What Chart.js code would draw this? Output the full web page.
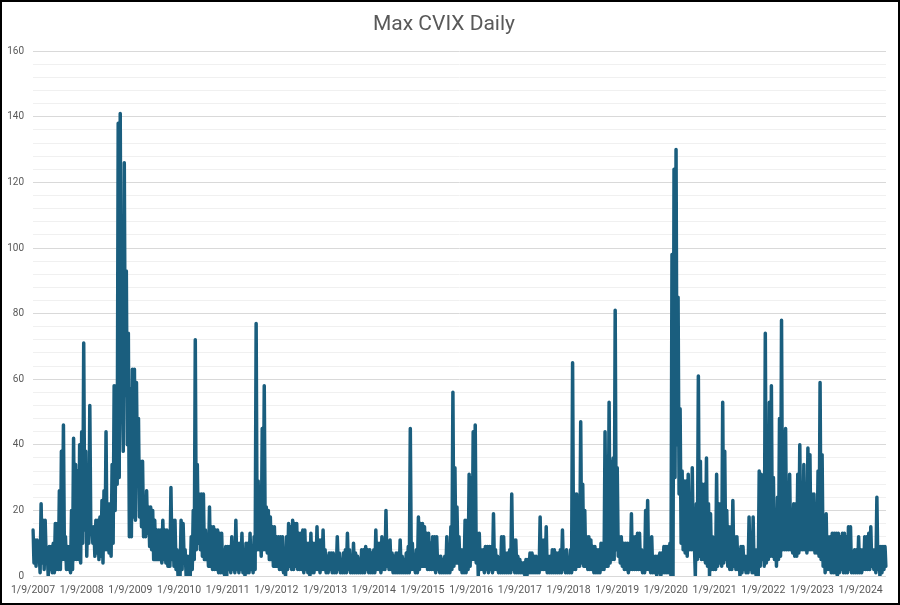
<!DOCTYPE html>
<html>
<head>
<meta charset="utf-8">
<script src="https://cdn.jsdelivr.net/npm/chart.js@4/dist/chart.umd.min.js"></script>
<style>
  body { margin: 0; background: #fff; }
  #wrap { width: 900px; height: 605px; box-sizing: border-box; border: 2px solid #000; background: #fff; }
  canvas { display: block; }
</style>
</head>
<body>
<div id="wrap"><canvas id="chart" width="896" height="601"></canvas></div>
<script>
// Max CVIX: high and low of each half month
var hi2007 = [14, 11, 11, 8, 22, 17, 17, 8, 9, 9, 10, 16, 16, 26, 38, 46, 12, 9, 9, 20, 42, 34, 32, 40]
var lo2007 = [4, 3, 5, 1, 4, 2, 5, 0, 2, 1, 1, 2, 2, 2, 5, 5, 2, 2, 1, 2, 5, 5, 5, 4]
var hi2008 = [44, 71, 38, 24, 52, 15, 15, 17, 17, 18, 23, 26, 44, 22, 22, 34, 58, 58, 138, 141, 60, 126, 93, 74]
var lo2008 = [10, 14, 6, 10, 13, 10, 6, 7, 5, 6, 4, 8, 8, 7, 6, 10, 20, 28, 30, 55, 38, 55, 40, 12]
var hi2009 = [57, 63, 63, 59, 48, 35, 35, 22, 26, 21, 21, 20, 17, 14, 14, 14, 17, 14, 14, 10, 27, 17, 17, 8]
var lo2009 = [12, 18, 17, 30, 18, 15, 12, 12, 13, 9, 8, 5, 5, 5, 5, 4, 5, 4, 3, 3, 5, 3, 2, 0]
var hi2010 = [7, 17, 16, 8, 6, 6, 12, 20, 72, 34, 25, 25, 25, 14, 10, 21, 15, 15, 14, 14, 13, 13, 8, 9]
var lo2010 = [0, 2, 5, 0, 0, 0, 2, 5, 8, 10, 8, 6, 5, 5, 3, 3, 2, 2, 2, 1, 1, 1, 0, 0]
var hi2011 = [9, 9, 12, 10, 17, 10, 10, 13, 8, 10, 10, 13, 9, 12, 77, 29, 27, 45, 58, 21, 20, 18, 15, 15]
var lo2011 = [2, 1, 2, 1, 2, 1, 2, 1, 0, 1, 1, 2, 1, 2, 8, 8, 6, 8, 8, 7, 5, 5, 3, 3]
var hi2012 = [12, 12, 12, 12, 8, 12, 16, 15, 17, 16, 16, 13, 13, 14, 14, 10, 10, 13, 10, 10, 15, 11, 11, 14]
var lo2012 = [3, 2, 2, 1, 0, 2, 3, 2, 2, 3, 2, 2, 2, 1, 2, 1, 0, 1, 1, 2, 2, 1, 2, 2]
var hi2013 = [8, 6, 7, 7, 7, 6, 12, 7, 5, 7, 8, 13, 8, 6, 10, 7, 6, 5, 8, 8, 9, 8, 8, 7]
var lo2013 = [1, 1, 2, 1, 1, 1, 2, 1, 1, 1, 1, 2, 1, 1, 1, 1, 1, 1, 1, 1, 2, 1, 1, 1]
var hi2014 = [8, 14, 10, 10, 12, 8, 20, 10, 11, 7, 6, 7, 7, 11, 6, 5, 7, 9, 45, 10, 6, 8, 18, 16]
var lo2014 = [1, 2, 2, 1, 2, 2, 3, 2, 2, 1, 1, 1, 1, 1, 1, 1, 1, 1, 2, 2, 1, 1, 2, 3]
var hi2015 = [16, 15, 13, 13, 10, 12, 12, 12, 6, 6, 5, 6, 12, 8, 15, 56, 33, 21, 12, 8, 8, 17, 17, 31]
var lo2015 = [3, 3, 2, 2, 2, 2, 1, 2, 1, 1, 1, 1, 1, 1, 2, 3, 4, 4, 2, 1, 1, 1, 2, 3]
var hi2016 = [30, 44, 46, 13, 13, 8, 8, 9, 9, 9, 9, 19, 8, 6, 5, 12, 12, 7, 7, 8, 25, 11, 11, 6]
var lo2016 = [5, 5, 4, 0, 2, 2, 1, 2, 1, 2, 1, 2, 2, 1, 1, 1, 1, 1, 1, 1, 2, 1, 1, 1]
var hi2017 = [5, 4, 4, 5, 5, 7, 7, 6, 6, 5, 18, 11, 11, 15, 6, 6, 8, 8, 7, 7, 8, 14, 5, 8]
var lo2017 = [1, 1, 0, 0, 1, 1, 1, 1, 1, 1, 2, 2, 2, 1, 1, 1, 1, 1, 1, 1, 1, 2, 1, 1]
var hi2018 = [5, 8, 65, 25, 25, 20, 47, 28, 20, 12, 12, 11, 9, 9, 8, 8, 10, 10, 44, 35, 53, 35, 36, 81]
var lo2018 = [1, 1, 2, 2, 3, 3, 4, 3, 3, 2, 2, 2, 1, 1, 1, 1, 2, 2, 3, 3, 4, 5, 5, 8]
var hi2019 = [33, 12, 12, 10, 10, 10, 10, 19, 12, 12, 13, 13, 8, 5, 20, 23, 10, 12, 6, 6, 6, 7, 7, 9]
var lo2019 = [6, 4, 3, 2, 2, 1, 2, 2, 2, 2, 2, 2, 1, 1, 2, 2, 1, 1, 1, 0, 1, 0, 1, 1]
var hi2020 = [9, 9, 10, 98, 124, 130, 85, 51, 32, 29, 29, 31, 18, 33, 11, 22, 61, 35, 28, 28, 36, 22, 19, 12]
var lo2020 = [1, 1, 0, 0, 30, 40, 25, 10, 8, 7, 6, 8, 8, 8, 0, 5, 6, 5, 5, 4, 3, 0, 2, 2]
var hi2021 = [7, 31, 22, 22, 53, 38, 20, 15, 15, 23, 12, 12, 8, 9, 9, 6, 6, 18, 12, 18, 8, 8, 32, 31]
var lo2021 = [2, 3, 4, 3, 4, 5, 3, 2, 2, 3, 2, 2, 0, 1, 2, 1, 1, 2, 1, 1, 0, 0, 3, 5]
var hi2022 = [12, 74, 20, 53, 58, 30, 20, 24, 48, 78, 44, 45, 17, 31, 20, 22, 22, 31, 40, 28, 34, 24, 39, 37]
var lo2022 = [3, 4, 5, 6, 6, 5, 3, 5, 6, 8, 8, 8, 8, 8, 7, 6, 6, 7, 8, 8, 8, 7, 8, 8]
var hi2023 = [25, 25, 22, 32, 59, 37, 12, 19, 12, 12, 13, 13, 13, 13, 12, 13, 13, 12, 15, 15, 7, 8, 8, 12]
var lo2023 = [8, 7, 7, 6, 5, 3, 1, 2, 2, 1, 1, 1, 0, 1, 2, 1, 1, 1, 2, 1, 1, 1, 1, 1]
var hi2024 = [8, 8, 12, 12, 13, 15, 8, 8, 24, 9, 9, 9, 9]
var lo2024 = [1, 2, 2, 2, 2, 3, 2, 1, 2, 0, 1, 2, 3]

var years = [2007, 2008, 2009, 2010, 2011, 2012, 2013, 2014, 2015, 2016, 2017, 2018, 2019, 2020, 2021, 2022, 2023, 2024]
var xTickLabels = ['1/9/2007', '1/9/2008', '1/9/2009', '1/9/2010', '1/9/2011', '1/9/2012', '1/9/2013', '1/9/2014', '1/9/2015',
                   '1/9/2016', '1/9/2017', '1/9/2018', '1/9/2019', '1/9/2020', '1/9/2021', '1/9/2022', '1/9/2023', '1/9/2024']
var perYear = 48  // 24 half months, a high and a low each

var highs = [hi2007, hi2008, hi2009, hi2010, hi2011, hi2012, hi2013, hi2014, hi2015, hi2016, hi2017, hi2018, hi2019, hi2020, hi2021, hi2022, hi2023, hi2024]
var lows = [lo2007, lo2008, lo2009, lo2010, lo2011, lo2012, lo2013, lo2014, lo2015, lo2016, lo2017, lo2018, lo2019, lo2020, lo2021, lo2022, lo2023, lo2024]

var labels = []
var values = []
highs.forEach(function (arr, k) {
    arr.forEach(function (v, i) {
        labels.push(years[k] + '-' + i + 'h')
        values.push(v)
        labels.push(years[k] + '-' + i + 'l')
        values.push(lows[k][i])
    })
})

var grey = '#595959'

var chart = new Chart(document.getElementById('chart').getContext('2d'), {
    type: 'line',
    data: {
        labels: labels,
        datasets: [{
            label: 'Max CVIX',
            data: values,
            borderColor: '#1a5e7e',
            borderWidth: 3.5,
            borderJoinStyle: 'round',
            borderCapStyle: 'round',
            pointRadius: 0,
            tension: 0,
            fill: false
        }]
    },
    options: {
        responsive: false,
        devicePixelRatio: 1,
        animation: false,
        layout: { padding: { left: 0, right: 12, top: 0, bottom: 0 } },
        plugins: {
            legend: { display: false },
            tooltip: { enabled: false },
            title: {
                display: true,
                text: 'Max CVIX Daily',
                color: grey,
                font: { family: 'Roboto', size: 21, weight: 'normal' },
                padding: { top: 10, bottom: 14 }
            }
        },
        scales: {
            x: {
                type: 'category',
                offset: false,
                grid: { display: false, drawTicks: false },
                border: { display: false },
                afterFit: function (scale) { scale.height = 27 },
                ticks: {
                    autoSkip: false,
                    maxRotation: 0,
                    minRotation: 0,
                    padding: 8,
                    color: grey,
                    font: { family: 'Roboto', size: 10.5 },
                    callback: function (val, index) {
                        return index % perYear === 0 ? xTickLabels[index / perYear] : ''
                    }
                }
            },
            y: {
                min: 0,
                max: 160,
                border: { display: false },
                afterFit: function (scale) { scale.width = 31 },
                grid: {
                    drawTicks: false,
                    color: function (ctx) {
                        return ctx.tick && ctx.tick.value % 20 === 0 ? '#d9d9d9' : '#f0f0f0'
                    },
                    lineWidth: 1
                },
                ticks: {
                    stepSize: 4,
                    autoSkip: false,
                    padding: 9,
                    color: grey,
                    font: { family: 'Roboto', size: 10 },
                    callback: function (v) { return v % 20 === 0 ? v : '' }
                }
            }
        }
    }
})
</script>
</body>
</html>
